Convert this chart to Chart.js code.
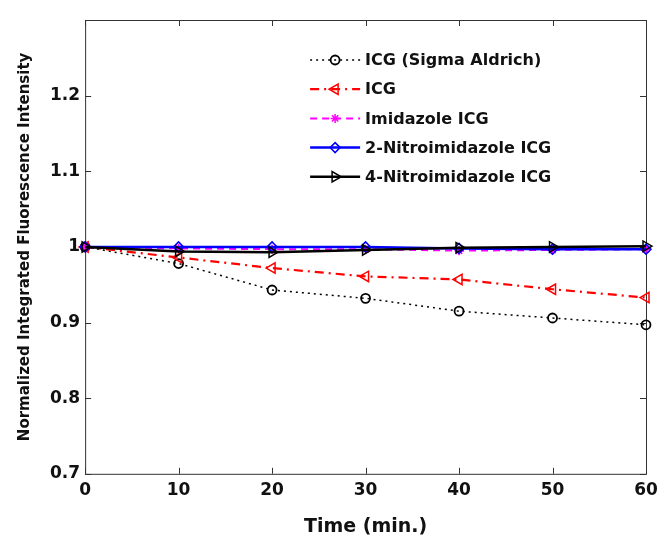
<!DOCTYPE html>
<html>
<head>
<meta charset="utf-8">
<script src="https://cdn.jsdelivr.net/npm/chart.js@4.4.1/dist/chart.umd.min.js"></script>
<style>
  html, body { margin: 0; padding: 0; background: #fff; }
  #wrap { width: 659px; height: 539px; }
</style>
</head>
<body>
<div id="wrap"><canvas id="chart" width="659" height="539"></canvas></div>
<script>
// values
const times = [0, 10, 20, 30, 40, 50, 60];
const sigmaIcg = [1, 0.978, 0.943, 0.932, 0.915, 0.906, 0.897];
const icg = [1, 0.986, 0.972, 0.961, 0.957, 0.944, 0.933];
const imidazoleIcg = [1, 0.998, 0.997, 0.997, 0.995, 0.996, 0.997];
const nitro2Icg = [1, 1.0, 1.0, 1.0, 0.998, 0.997, 0.997];
const nitro4Icg = [1, 0.994, 0.993, 0.996, 0.999, 1.0, 1.001];
const seriesNames = ['ICG (Sigma Aldrich)', 'ICG', 'Imidazole ICG', '2-Nitroimidazole ICG', '4-Nitroimidazole ICG'];
const xTicks = [0, 10, 20, 30, 40, 50, 60];
const yTicks = [0.7, 0.8, 0.9, 1, 1.1, 1.2, 1.3];

const FONT = 'DejaVu Sans';

function toPoints(vals) {
    return vals.map((v, i) => ({ x: times[i], y: v }));
}

// MATLAB style box with inward ticks on all four sides
const boxAxes = {
    id: 'boxAxes',
    beforeDatasetsDraw(chart) {
        const { ctx, chartArea: a, scales: { x, y } } = chart;
        ctx.save();
        ctx.strokeStyle = '#333';
        ctx.lineWidth = 1;
        ctx.strokeRect(a.left + 0.5, a.top + 0.5, a.right - a.left, a.bottom - a.top);
        ctx.beginPath();
        x.ticks.forEach(t => {
            const px = Math.round(x.getPixelForValue(t.value)) + 0.5;
            ctx.moveTo(px, a.bottom); ctx.lineTo(px, a.bottom - 6);
            ctx.moveTo(px, a.top); ctx.lineTo(px, a.top + 6);
        });
        y.ticks.forEach(t => {
            const py = Math.round(y.getPixelForValue(t.value)) + 0.5;
            ctx.moveTo(a.left, py); ctx.lineTo(a.left + 6, py);
            ctx.moveTo(a.right, py); ctx.lineTo(a.right - 6, py);
        });
        ctx.stroke();
        ctx.restore();
    }
};

// legend drawn inside the plot, no frame
const insideLegend = {
    id: 'insideLegend',
    afterDatasetsDraw(chart) {
        const { ctx, chartArea: a } = chart;
        const x0 = a.left + 225;
        const y0 = a.top + 40;
        const rowH = 29.2;
        ctx.save();
        chart.data.datasets.forEach((ds, i) => {
            const yy = y0 + i * rowH;
            ctx.strokeStyle = ds.borderColor;
            ctx.lineWidth = ds.borderWidth;
            ctx.setLineDash(ds.borderDash || []);
            ctx.beginPath();
            ctx.moveTo(x0, yy);
            ctx.lineTo(x0 + 50, yy);
            ctx.stroke();
            ctx.setLineDash([]);
            ctx.fillStyle = 'rgba(0,0,0,0)';
            ctx.strokeStyle = ds.pointBorderColor;
            ctx.lineWidth = ds.pointBorderWidth;
            Chart.helpers.drawPoint(ctx, {
                pointStyle: ds.pointStyle,
                rotation: ds.pointRotation || 0,
                radius: ds.pointRadius,
                borderWidth: ds.pointBorderWidth
            }, x0 + 25, yy);
            ctx.fillStyle = '#111';
            ctx.font = 'bold 16px "' + FONT + '"';
            ctx.textBaseline = 'middle';
            ctx.fillText(ds.label, x0 + 55, yy + 1);
        });
        ctx.restore();
    }
};

new Chart(document.getElementById('chart'), {
    type: 'line',
    data: {
        datasets: [
            {
                label: seriesNames[0], data: toPoints(sigmaIcg), order: 5,
                borderColor: '#000', borderWidth: 1.5, borderDash: [2, 4],
                pointStyle: 'circle', pointRadius: 4.5, pointBorderWidth: 1.8,
                pointBorderColor: '#000', pointBackgroundColor: 'rgba(0,0,0,0)'
            },
            {
                label: seriesNames[1], data: toPoints(icg), order: 4,
                borderColor: '#ff0000', borderWidth: 2.2, borderDash: [9, 5, 2, 5],
                pointStyle: 'triangle', pointRotation: -90, pointRadius: 6, pointBorderWidth: 1.5,
                pointBorderColor: '#ff0000', pointBackgroundColor: 'rgba(0,0,0,0)'
            },
            {
                label: seriesNames[2], data: toPoints(imidazoleIcg), order: 3,
                borderColor: '#ff00ff', borderWidth: 2, borderDash: [7, 5],
                pointStyle: 'star', pointRadius: 4.5, pointBorderWidth: 1.5,
                pointBorderColor: '#ff00ff', pointBackgroundColor: 'rgba(0,0,0,0)'
            },
            {
                label: seriesNames[3], data: toPoints(nitro2Icg), order: 2,
                borderColor: '#0000ff', borderWidth: 2.5,
                pointStyle: 'rectRot', pointRadius: 5, pointBorderWidth: 1.5,
                pointBorderColor: '#0000ff', pointBackgroundColor: 'rgba(0,0,0,0)'
            },
            {
                label: seriesNames[4], data: toPoints(nitro4Icg), order: 1,
                borderColor: '#000', borderWidth: 2.5,
                pointStyle: 'triangle', pointRotation: 90, pointRadius: 6, pointBorderWidth: 1.5,
                pointBorderColor: '#000', pointBackgroundColor: 'rgba(0,0,0,0)'
            }
        ]
    },
    options: {
        responsive: false,
        animation: false,
        clip: false,
        layout: { padding: { left: 16, top: 20, right: 0, bottom: 1 } },
        plugins: { legend: { display: false }, tooltip: { enabled: false } },
        elements: { line: { tension: 0 } },
        scales: {
            x: {
                type: 'linear', min: 0, max: 60,
                afterBuildTicks: s => { s.ticks = xTicks.map(v => ({ value: v })); },
                afterFit: s => { s.paddingRight = 13; },
                grid: { display: false, drawTicks: false, tickLength: 0 },
                border: { display: false },
                ticks: { color: '#111', padding: 7, font: { family: FONT, size: 17, weight: 'bold' } },
                title: {
                    display: true, text: 'Time (min.)', color: '#111',
                    padding: { top: 7, bottom: 0 },
                    font: { family: FONT, size: 19, weight: 'bold' }
                }
            },
            y: {
                type: 'linear', min: 0.7, max: 1.3,
                afterBuildTicks: s => { s.ticks = yTicks.map(v => ({ value: v })); },
                grid: { display: false, drawTicks: false, tickLength: 0 },
                border: { display: false },
                ticks: {
                    color: '#111', padding: 5,
                    font: { family: FONT, size: 17, weight: 'bold' },
                    callback: v => (v === 1.3 ? '' : String(v))
                },
                title: {
                    display: true, text: 'Normalized Integrated Fluorescence Intensity', color: '#111',
                    padding: { top: 0, bottom: 11 },
                    font: { family: FONT, size: 15, weight: 'bold' }
                }
            }
        }
    },
    plugins: [boxAxes, insideLegend]
});
</script>
</body>
</html>
